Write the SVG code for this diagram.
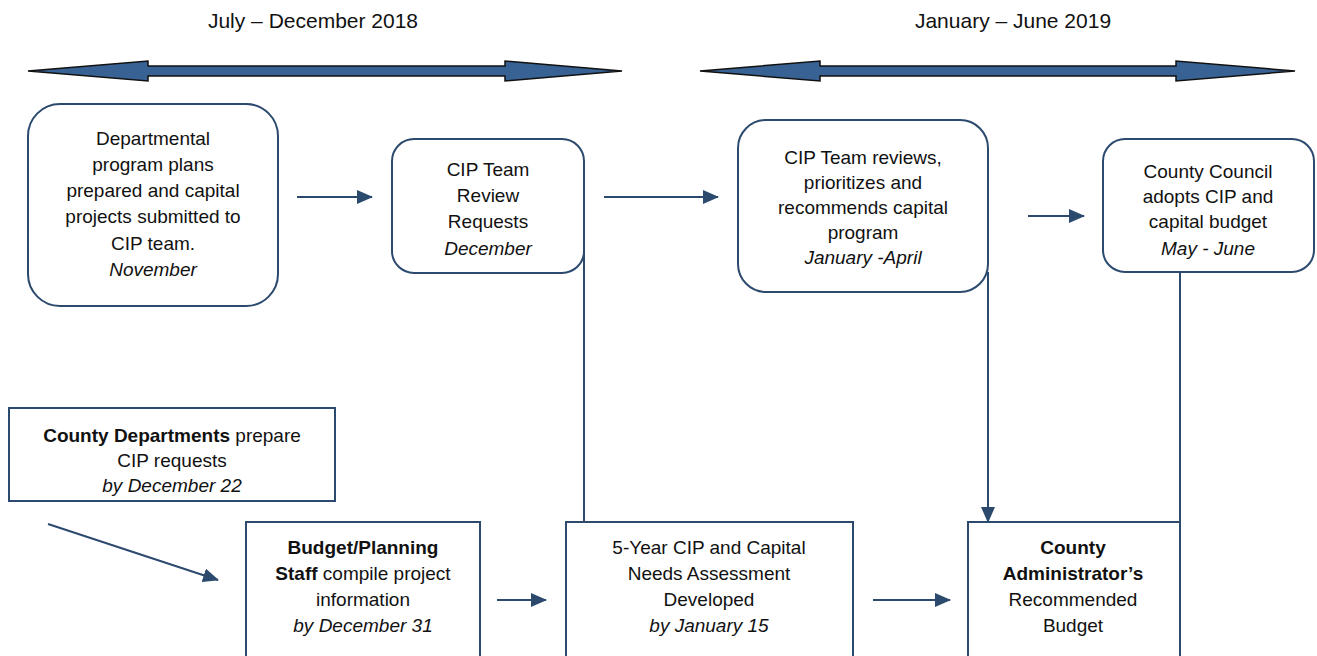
<svg xmlns="http://www.w3.org/2000/svg" width="1317" height="656" viewBox="0 0 1317 656">
<style>
.box{fill:#fff;stroke:#2c4a6e;stroke-width:2}
.t{font-family:"Liberation Sans",Arial,sans-serif;font-size:19px;fill:#111;text-anchor:middle}
.i{font-style:italic}
.b{font-weight:bold}
.hd{font-family:"Liberation Sans",Arial,sans-serif;font-size:21px;fill:#111;text-anchor:middle}
.c{stroke:#2c4a6e;stroke-width:2;fill:none}
.big{fill:#386293;stroke:#111;stroke-width:1.5;stroke-linejoin:miter}
</style>
<defs>
<marker id="ah2" markerWidth="16" markerHeight="14" refX="15" refY="7" orient="auto" markerUnits="userSpaceOnUse" viewBox="0 0 16 14">
<path d="M0,0 L16,7 L0,14 z" fill="#2c4a6e"/>
</marker>
</defs>
<g id="headers">
<text class="hd" x="313" y="28">July – December 2018</text>
<text class="hd" x="1013" y="28">January – June 2019</text>
<path class="big" d="M28,71 L148,61 L148,66 L505,66 L505,61 L622,71 L505,81 L505,76 L148,76 L148,81 Z"/>
<path class="big" d="M700,71 L820,61 L820,66 L1176,66 L1176,61 L1295,71 L1176,81 L1176,76 L820,76 L820,81 Z"/>
</g>
<g id="connectors">
<line class="c" x1="297" y1="197" x2="372" y2="197" marker-end="url(#ah2)"/>
<line class="c" x1="604" y1="197" x2="718" y2="197" marker-end="url(#ah2)"/>
<line class="c" x1="1028" y1="216" x2="1084" y2="216" marker-end="url(#ah2)"/>
<line class="c" x1="48" y1="524" x2="218" y2="580" marker-end="url(#ah2)"/>
<line class="c" x1="497" y1="600" x2="546" y2="600" marker-end="url(#ah2)"/>
<line class="c" x1="873" y1="600" x2="950" y2="600" marker-end="url(#ah2)"/>
<line class="c" x1="988" y1="272" x2="988" y2="522" marker-end="url(#ah2)"/>
<line class="c" x1="584" y1="250" x2="584" y2="522"/>
<line class="c" x1="1180" y1="266" x2="1180" y2="522"/>
</g>
<g id="n1">
<rect class="box" x="28" y="104" width="250" height="202" rx="32"/>
<text class="t" x="153" y="145">Departmental</text>
<text class="t" x="153" y="171">program plans</text>
<text class="t" x="153" y="197">prepared and capital</text>
<text class="t" x="153" y="223">projects submitted to</text>
<text class="t" x="153" y="250">CIP team.</text>
<text class="t i" x="153" y="276">November</text>
</g>
<g id="n2">
<rect class="box" x="392" y="139" width="192" height="134" rx="22"/>
<text class="t" x="488" y="176">CIP Team</text>
<text class="t" x="488" y="202">Review</text>
<text class="t" x="488" y="228">Requests</text>
<text class="t i" x="488" y="255">December</text>
</g>
<g id="n3">
<rect class="box" x="738" y="120" width="250" height="172" rx="28"/>
<text class="t" x="863" y="164">CIP Team reviews,</text>
<text class="t" x="863" y="189">prioritizes and</text>
<text class="t" x="863" y="214">recommends capital</text>
<text class="t" x="863" y="239">program</text>
<text class="t i" x="863" y="264">January -April</text>
</g>
<g id="n4">
<rect class="box" x="1103" y="139" width="211" height="133" rx="22"/>
<text class="t" x="1208" y="178">County Council</text>
<text class="t" x="1208" y="203">adopts CIP and</text>
<text class="t" x="1208" y="228">capital  budget</text>
<text class="t i" x="1208" y="255">May - June</text>
</g>
<g id="n5">
<rect class="box" x="9" y="408" width="326" height="93"/>
<text class="t" x="172" y="442"><tspan class="b">County Departments</tspan> prepare</text>
<text class="t" x="172" y="467">CIP requests</text>
<text class="t i" x="172" y="492">by December 22</text>
</g>
<g id="n6">
<rect class="box" x="246" y="522" width="234" height="140"/>
<text class="t b" x="363" y="554">Budget/Planning</text>
<text class="t" x="363" y="580"><tspan class="b">Staff</tspan> compile project</text>
<text class="t" x="363" y="606">information</text>
<text class="t i" x="363" y="632">by December 31</text>
</g>
<g id="n7">
<rect class="box" x="566" y="522" width="287" height="140"/>
<text class="t" x="709" y="554">5-Year CIP and Capital</text>
<text class="t" x="709" y="580">Needs Assessment</text>
<text class="t" x="709" y="606">Developed</text>
<text class="t i" x="709" y="632">by January 15</text>
</g>
<g id="n8">
<rect class="box" x="968" y="522" width="212" height="140"/>
<text class="t b" x="1073" y="554">County</text>
<text class="t b" x="1073" y="580">Administrator’s</text>
<text class="t" x="1073" y="606">Recommended</text>
<text class="t" x="1073" y="632">Budget</text>
</g>
</svg>
